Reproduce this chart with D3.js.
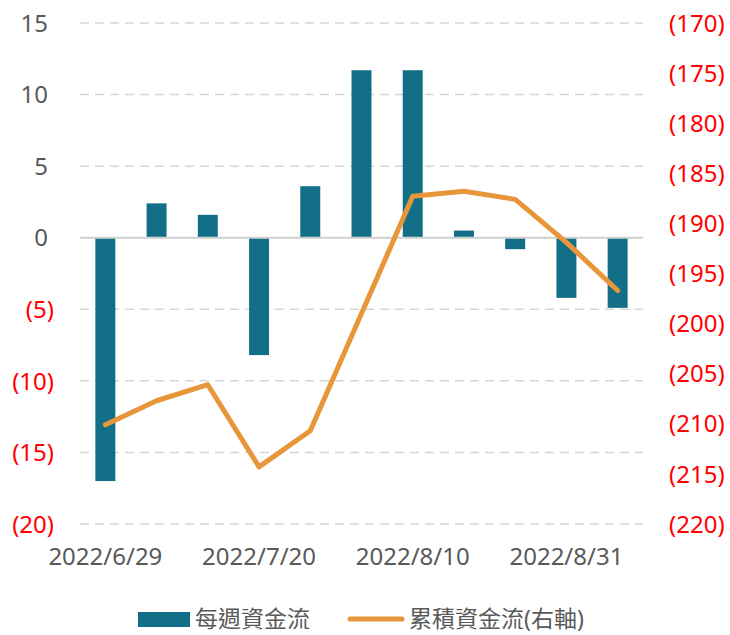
<!DOCTYPE html>
<html>
<head>
<meta charset="utf-8">
<script src="https://cdn.jsdelivr.net/npm/d3@7"></script>
<style>
  body { margin: 0; background: #fff; }
  text { font-family: "Noto Sans", "Noto Sans CJK TC", sans-serif; }
</style>
</head>
<body>
<div id="chart"></div>
<script>
// weekly dates, only every 3rd gets a label
const weeks = ['2022/6/29', '2022/7/6', '2022/7/13', '2022/7/20', '2022/7/27', '2022/8/3',
  '2022/8/10', '2022/8/17', '2022/8/24', '2022/8/31', '2022/9/7']
const weeklyFlow = [-17.0, 2.4, 1.6, -8.2, 3.6, 11.7, 11.7, 0.5, -0.8, -4.2, -4.9]
const cumulativeFlow = [-210.1, -207.7, -206.1, -214.3, -210.7, -199.0, -187.3, -186.8, -187.6, -191.9, -196.7]
const leftTicks = [15, 10, 5, 0, -5, -10, -15, -20]
const rightTicks = [-170, -175, -180, -185, -190, -195, -200, -205, -210, -215, -220]
const shownLabels = ['2022/6/29', '2022/7/20', '2022/8/10', '2022/8/31']

const barColor = '#136f87'
const lineColor = '#e8963a'
const grey = '#595959'
const red = '#ff0000'

const W = 730, H = 635
const svg = d3.select('#chart').append('svg')
  .attr('width', W).attr('height', H)

let x = d3.scaleBand().domain(weeks).range([80, 643]).paddingInner(0.61).paddingOuter(0.3)
let yL = d3.scaleLinear().domain([-20, 15]).range([524, 23])
let yR = d3.scaleLinear().domain([-220, -170]).range([524, 23])

const fmt = v => v < 0 ? '(' + Math.abs(v) + ')' : String(v)

// gridlines
svg.append('g').selectAll('line')
  .data(leftTicks.filter(t => t !== 0))
  .enter().append('line')
  .attr('x1', 80).attr('x2', 643)
  .attr('y1', d => yL(d)).attr('y2', d => yL(d))
  .attr('stroke', '#d6d6d6').attr('stroke-width', 1.5)
  .attr('stroke-dasharray', '9,6')

// bars
svg.append('g').selectAll('rect')
  .data(weeklyFlow)
  .enter().append('rect')
  .attr('x', (d, i) => x(weeks[i]))
  .attr('width', x.bandwidth())
  .attr('y', d => yL(Math.max(0, d)))
  .attr('height', d => Math.abs(yL(d) - yL(0)))
  .attr('fill', barColor)

// zero line
svg.append('line')
  .attr('x1', 80).attr('x2', 643)
  .attr('y1', yL(0)).attr('y2', yL(0))
  .attr('stroke', '#d0d0d0').attr('stroke-width', 2)

// cumulative line
let line = d3.line()
  .x((d, i) => x(weeks[i]) + x.bandwidth() / 2)
  .y(d => yR(d))

svg.append('path')
  .datum(cumulativeFlow)
  .attr('d', line)
  .attr('fill', 'none')
  .attr('stroke', lineColor)
  .attr('stroke-width', 5)
  .attr('stroke-linejoin', 'round')
  .attr('stroke-linecap', 'round')

// left axis
let leftAxis = d3.axisLeft(yL).tickValues(leftTicks).tickFormat(fmt).tickSize(0).tickPadding(0)
let gL = svg.append('g').attr('transform', 'translate(54,0)').call(leftAxis)
gL.select('.domain').remove()
gL.selectAll('text')
  .attr('font-size', 24)
  .attr('fill', d => d < 0 ? red : grey)
  .attr('x', d => d < 0 ? 0 : -6)
  .attr('dy', '0.34em')

// right axis
let rightAxis = d3.axisRight(yR).tickValues(rightTicks).tickFormat(fmt).tickSize(0).tickPadding(0)
let gR = svg.append('g').attr('transform', 'translate(669,0)').call(rightAxis)
gR.select('.domain').remove()
gR.selectAll('text')
  .attr('font-size', 24)
  .attr('fill', red)
  .attr('dy', '0.34em')

// x axis
let xAxis = d3.axisBottom(x).tickValues(shownLabels).tickSize(0).tickPadding(0)
let gX = svg.append('g').attr('transform', 'translate(0,548)').call(xAxis)
gX.select('.domain').remove()
gX.selectAll('text')
  .attr('font-size', 24)
  .attr('fill', grey)
  .attr('dy', '0.72em')

// legend
let legend = svg.append('g')
legend.append('rect')
  .attr('x', 138).attr('y', 612).attr('width', 52).attr('height', 15)
  .attr('fill', barColor)
legend.append('text')
  .attr('x', 195).attr('y', 619).attr('dy', '0.36em')
  .attr('font-size', 23).attr('fill', grey)
  .text('每週資金流')
legend.append('line')
  .attr('x1', 350).attr('x2', 402).attr('y1', 619).attr('y2', 619)
  .attr('stroke', lineColor).attr('stroke-width', 5).attr('stroke-linecap', 'round')
legend.append('text')
  .attr('x', 409).attr('y', 619).attr('dy', '0.36em')
  .attr('font-size', 23).attr('fill', grey)
  .text('累積資金流(右軸)')
</script>
</body>
</html>
